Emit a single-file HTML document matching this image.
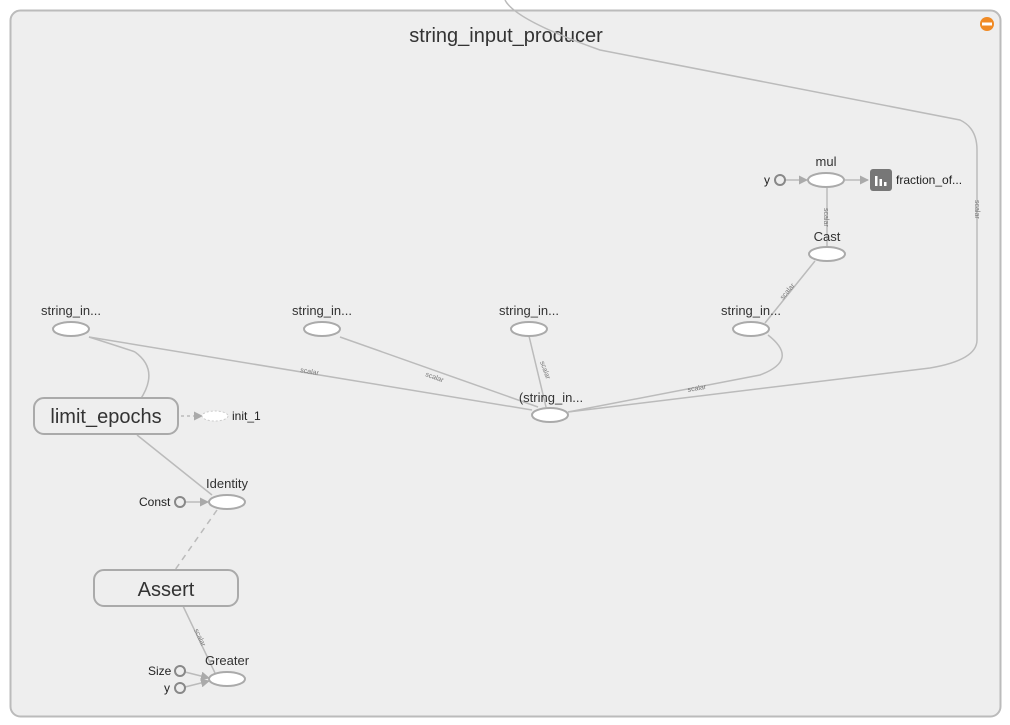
<!DOCTYPE html><html><head><style>body{margin:0;background:#fff}svg{display:block;font-family:"Liberation Sans",Arial,sans-serif}</style></head><body>
<svg width="1010" height="725" viewBox="0 0 1010 725">
<defs><marker id="a" markerWidth="9" markerHeight="9" refX="8" refY="4.5" orient="auto" markerUnits="userSpaceOnUse"><path d="M0,0L9,4.5L0,9z" fill="#aaa"/></marker></defs>
<rect x="10.5" y="10.5" width="990" height="706" rx="10" fill="#eee" stroke="#bbb" stroke-width="2"/>
<text x="506" y="42" font-size="20" text-anchor="middle" fill="#333">string_input_producer</text>
<circle cx="987" cy="24" r="7" fill="#f08a24"/><rect x="982" y="22.5" width="10" height="3" fill="#fff"/>
<g fill="none" stroke="#bbb" stroke-width="1.5">
<path d="M505,0 Q515,20 600,50 L960,120 Q977,128 977,150 L977,340 Q977,360 930,368 L568,412"/>
<path d="M89,337 L532,410"/>
<path d="M340,337 L538,407"/>
<path d="M529,336 L546,407"/>
<path d="M768,335 Q800,360 760,375 L568,412"/>
<path d="M135,352 Q160,370 140,400"/>
<path d="M89,337 Q130,350 135,352"/>
<path d="M815,261 L765,323"/>
<path d="M827,188 L827,246"/>
<path d="M137,435 L212,495"/>
<path d="M217,510 L175,570" stroke-dasharray="6,5"/>
<path d="M183,606 L215,673"/>
<path d="M785,180 L807,180" marker-end="url(#a)"/>
<path d="M845,180 L868,180" marker-end="url(#a)"/>
<path d="M185,502 L208,502" marker-end="url(#a)"/>
<path d="M185,672 L209,678" marker-end="url(#a)"/>
<path d="M185,687 L209,681" marker-end="url(#a)"/>
<path d="M181,416 L202,416" stroke-dasharray="3,3" marker-end="url(#a)"/>
</g>
<g fill="#fff" stroke="#aaa" stroke-width="2">
<ellipse cx="71" cy="329" rx="18" ry="7"/><ellipse cx="322" cy="329" rx="18" ry="7"/>
<ellipse cx="529" cy="329" rx="18" ry="7"/><ellipse cx="751" cy="329" rx="18" ry="7"/>
<ellipse cx="550" cy="415" rx="18" ry="7"/><ellipse cx="826" cy="180" rx="18" ry="7"/>
<ellipse cx="827" cy="254" rx="18" ry="7"/><ellipse cx="227" cy="502" rx="18" ry="7"/>
<ellipse cx="227" cy="679" rx="18" ry="7"/>
<rect x="34" y="398" width="144" height="36" rx="10" fill="#eee"/>
<rect x="94" y="570" width="144" height="36" rx="10" fill="#eee"/>
</g>
<ellipse cx="215" cy="416" rx="13" ry="5" fill="#fff" stroke="#ccc" stroke-dasharray="2,2"/>
<g fill="#eee" stroke="#888" stroke-width="2"><circle cx="780" cy="180" r="5"/><circle cx="180" cy="502" r="5"/><circle cx="180" cy="671" r="5"/><circle cx="180" cy="688" r="5"/></g>
<rect x="870" y="169" width="22" height="22" rx="3" fill="#777"/>
<g fill="#fff"><rect x="875" y="176" width="2.5" height="10"/><rect x="879.5" y="179" width="2.5" height="7"/><rect x="884" y="182" width="2.5" height="4"/></g>
<g font-size="13" fill="#333" text-anchor="middle">
<text x="71" y="315">string_in...</text><text x="322" y="315">string_in...</text>
<text x="529" y="315">string_in...</text><text x="751" y="315">string_in...</text>
<text x="551" y="402">(string_in...</text><text x="826" y="166">mul</text>
<text x="827" y="241">Cast</text><text x="227" y="488">Identity</text><text x="227" y="665">Greater</text>
<text x="106" y="423" font-size="20">limit_epochs</text><text x="166" y="596" font-size="20">Assert</text>
</g>
<g font-size="12" fill="#222">
<text x="764" y="184">y</text><text x="896" y="184">fraction_of...</text>
<text x="232" y="420">init_1</text><text x="139" y="506">Const</text>
<text x="148" y="675">Size</text><text x="164" y="692">y</text>
</g>
<g font-size="7" fill="#777">
<text transform="translate(975,200) rotate(90)">scalar</text>
<text transform="translate(824,208) rotate(90)">scalar</text>
<text transform="translate(783,300) rotate(-50)">scalar</text>
<text transform="translate(688,392) rotate(-10)">scalar</text>
<text transform="translate(540,362) rotate(70)">scalar</text>
<text transform="translate(425,376) rotate(20)">scalar</text>
<text transform="translate(300,372) rotate(10)">scalar</text>
<text transform="translate(194,630) rotate(65)">scalar</text>
</g>
</svg></body></html>
